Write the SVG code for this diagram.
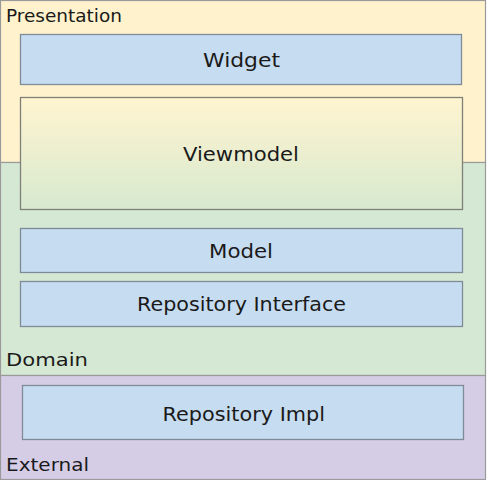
<svg xmlns="http://www.w3.org/2000/svg" width="487" height="480" viewBox="0 0 487 480">
<defs>
<linearGradient id="vm" x1="0" y1="0" x2="0" y2="1">
<stop offset="0" stop-color="#fff4d0"/>
<stop offset="1" stop-color="#d7e9cf"/>
</linearGradient>
<style>
.layer{stroke:#9a9a9a;stroke-width:1.2}
.node{fill:#c6dcf0;stroke:#7f8b98;stroke-width:1.3}
.lbl{font-family:"DejaVu Sans","Noto Sans",sans-serif;font-size:18px;fill:#1a1a1a}
.nl{font-family:"DejaVu Sans","Noto Sans",sans-serif;font-size:20px;fill:#1a1a1a}
</style>
</defs>
<g id="presentation"><rect class="layer" x="0.5" y="0.5" width="485" height="162" fill="#fff2cc"/><text class="lbl" x="6" y="22.3" textLength="116" lengthAdjust="spacingAndGlyphs">Presentation</text></g>
<g id="domain"><rect class="layer" x="0.5" y="162.5" width="485" height="213" fill="#d5e8d4"/><text class="lbl" x="6" y="366" textLength="82" lengthAdjust="spacingAndGlyphs">Domain</text></g>
<g id="external"><rect class="layer" x="0.5" y="375.5" width="485" height="104" fill="#d5cce6"/><text class="lbl" x="6" y="470.7" textLength="83" lengthAdjust="spacingAndGlyphs">External</text></g>
<g id="widget"><rect class="node" x="20.5" y="34.5" width="441" height="50"/><text class="nl" x="203" y="66.7" textLength="77" lengthAdjust="spacingAndGlyphs">Widget</text></g>
<g id="viewmodel"><rect x="20.5" y="97.5" width="442" height="112" fill="url(#vm)" stroke="#80807a" stroke-width="1.3"/><text class="nl" x="183" y="161" textLength="116" lengthAdjust="spacingAndGlyphs">Viewmodel</text></g>
<g id="model"><rect class="node" x="20.5" y="228.5" width="442" height="44"/><text class="nl" x="209" y="258" textLength="64" lengthAdjust="spacingAndGlyphs">Model</text></g>
<g id="repo-interface"><rect class="node" x="20.5" y="281.5" width="442" height="45"/><text class="nl" x="137" y="311" textLength="209" lengthAdjust="spacingAndGlyphs">Repository Interface</text></g>
<g id="repo-impl"><rect class="node" x="22.5" y="385.5" width="441" height="54"/><text class="nl" x="162.5" y="420.7" textLength="162.5" lengthAdjust="spacingAndGlyphs">Repository Impl</text></g>
<g id="connectors"/>
</svg>
